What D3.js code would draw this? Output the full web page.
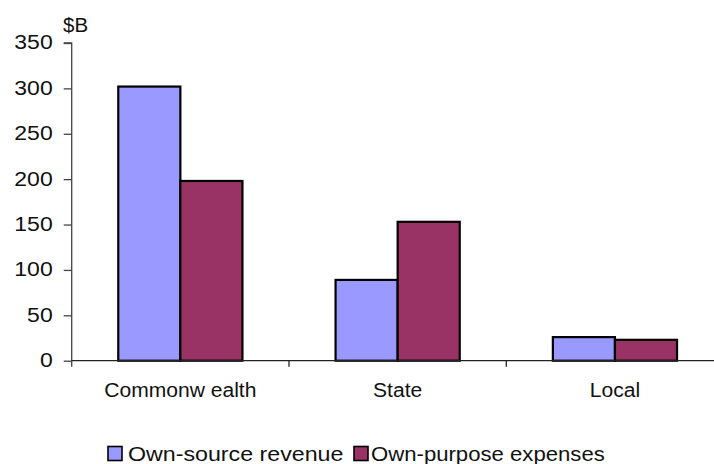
<!DOCTYPE html>
<html><head><meta charset="utf-8">
<script src="https://cdn.jsdelivr.net/npm/d3@7/dist/d3.min.js"></script>
<style>
html,body{margin:0;padding:0;background:#fff;}
svg{display:block;font-family:"Liberation Sans",Arial,sans-serif;}
</style></head>
<body>
<svg id="chart" width="714" height="464"></svg>
<script>
const categories = ["Commonw ealth", "State", "Local"];
const seriesNames = ["Own-source revenue", "Own-purpose expenses"];
const revenue = [302, 89, 26];
const expenses = [198, 153, 23];
const yTicks = [0, 50, 100, 150, 200, 250, 300, 350];
const colors = ["#9999FF", "#993366"];

const svg = d3.select("#chart");
const x0 = 71.7, plotRight = 723.6, yBottom = 360.7, yTop = 43;
const FONT = "Liberation Sans, Arial, sans-serif";

function stretch(sel, k) {
  sel.each(function() {
    const len = this.getComputedTextLength();
    d3.select(this).attr("textLength", len * k).attr("lengthAdjust", "spacingAndGlyphs");
  });
}

const x = d3.scaleBand().domain(categories).range([x0, plotRight]).paddingInner(0).paddingOuter(0);
const inner = d3.scaleBand().domain(seriesNames).range([0, x.bandwidth()]).paddingInner(0).paddingOuter(0.75);
const y = d3.scaleLinear().domain([0, 350]).range([yBottom, yTop]);

const data = categories.map((c, i) => ({cat: c, vals: [revenue[i], expenses[i]]}));

// bars
const g = svg.append("g");
data.forEach(d => {
  d.vals.forEach((v, j) => {
    g.append("rect")
      .attr("x", x(d.cat) + inner(seriesNames[j]))
      .attr("y", y(v))
      .attr("width", inner.bandwidth())
      .attr("height", y(0) - y(v))
      .attr("fill", colors[j])
      .attr("stroke", "#000")
      .attr("stroke-width", 2.2);
  });
});

// y axis
const yAxis = d3.axisLeft(y).tickValues(yTicks).tickSize(8).tickPadding(11).tickFormat(d3.format("d"));
const ya = svg.append("g").attr("transform", `translate(${x0},0)`).call(yAxis);
ya.select(".domain").attr("d", `M-8,${yTop}H0V${yBottom + 6}`).attr("stroke", "#444").attr("stroke-width", 1.3);
ya.selectAll(".tick line").attr("stroke", "#444").attr("stroke-width", 1.3);
ya.selectAll(".tick text").attr("font-size", 19.5).attr("fill", "#111").attr("font-family", FONT).attr("dy", "0.3em");
stretch(ya.selectAll(".tick text"), 1.18);

// x axis
const xAxis = d3.axisBottom(x).tickSize(0).tickPadding(0);
const xa = svg.append("g").attr("transform", `translate(0,${yBottom})`).call(xAxis);
xa.select(".domain").attr("d", `M${x0},0H${plotRight}`).attr("stroke", "#222").attr("stroke-width", 1.3);
xa.selectAll(".tick text").attr("font-size", 19.5).attr("fill", "#111").attr("font-family", FONT).attr("y", 36).attr("dy", 0);
stretch(xa.selectAll(".tick text"), 1.08);
categories.slice(1).forEach(c => {
  xa.append("line").attr("x1", x(c)).attr("x2", x(c)).attr("y1", 0).attr("y2", 6).attr("stroke", "#222").attr("stroke-width", 1.3);
});

// unit label
const unit = svg.append("text").attr("x", 63).attr("y", 32).attr("font-size", 19.5).attr("fill", "#111").text("$B");
stretch(unit, 1.05);

// legend
const legendX = [108, 354];
const legendTextX = [128, 371];
const legendStretch = [1.19, 1.135];
seriesNames.forEach((n, j) => {
  svg.append("rect").attr("x", legendX[j]).attr("y", 446.5).attr("width", 14).attr("height", 14)
    .attr("fill", colors[j]).attr("stroke", "#000").attr("stroke-width", 1.6);
  const t = svg.append("text").attr("x", legendTextX[j]).attr("y", 461).attr("font-size", 19.5).attr("fill", "#111").text(n);
  stretch(t, legendStretch[j]);
});
</script>
</body></html>
